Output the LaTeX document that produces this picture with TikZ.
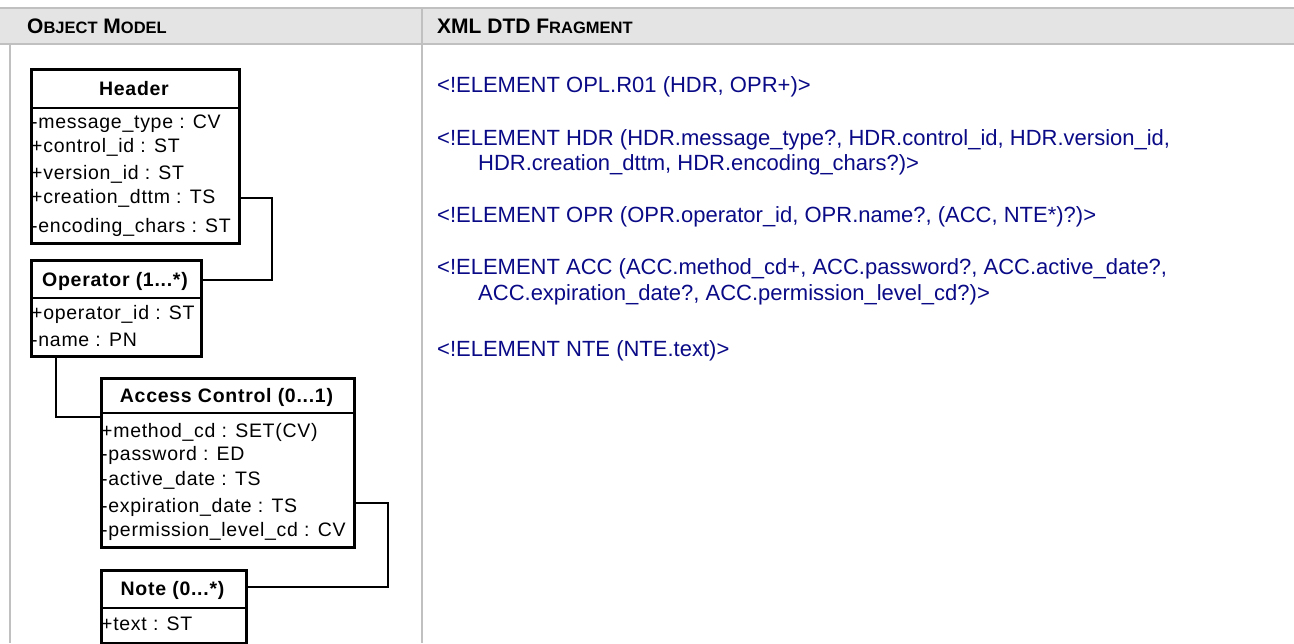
\documentclass[tikz,border=0pt]{standalone}
\usepackage{fontspec}
\setmainfont{Liberation Sans}
\newfontfamily\attrfont[LetterSpace=3.7]{Liberation Sans}
\definecolor{navy}{RGB}{10,10,135}
\definecolor{rulegray}{RGB}{192,192,192}
\definecolor{bandgray}{RGB}{228,228,228}
\newcommand\smcp[1]{{\fontsize{16.5}{20}\selectfont #1}}
\tikzset{
  umlbox/.style={draw=black, line width=2.6pt, inner sep=0pt, anchor=north west},
  divider/.style={draw=black, line width=2.6pt},
  attr/.style={anchor=base west, inner sep=0pt, font=\attrfont\fontsize{19.5}{22}\selectfont},
  ttl/.style={anchor=base, inner sep=0pt, font=\attrfont\bfseries\fontsize{19.5}{22}\selectfont},
  conn/.style={draw=black, line width=1.1pt},
  dtd/.style={anchor=base west, inner sep=0pt, text=navy, font=\fontsize{22}{25}\selectfont},
  colhead/.style={anchor=base west, inner sep=0pt, font=\bfseries\fontsize{21}{24}\selectfont},
  tablerule/.style={draw=rulegray, line width=2pt}
}
\begin{document}
\begin{tikzpicture}[x=1pt,y=-1pt]
\useasboundingbox (0,0) rectangle (1294,643);
% table frame
\fill[bandgray] (0,7.7) rectangle (1294,43.7);
\draw[tablerule] (0,7.7) -- (1294,7.7);
\draw[tablerule] (0,43.7) -- (1294,43.7);
\draw[tablerule] (10,43.7) -- (10,643);
\draw[tablerule] (422,7.7) -- (422,643);
\node[colhead] (h1) at (27,33) {O\smcp{BJECT} M\smcp{ODEL}};
\node[colhead] (h2) at (437,33) {XML DTD F\smcp{RAGMENT}};

% Header box
\node[umlbox, minimum width=208pt, minimum height=174pt] (hdr) at (30,68) {};
\draw[divider] (30,108) -- (238,108);
\node[ttl] (hdrt) at (134,95) {Header};
\node[attr] (h_a) at (31,128) {-message\_type : CV};
\node[attr] (h_b) at (31,152) {+control\_id : ST};
\node[attr] (h_c) at (31,179) {+version\_id : ST};
\node[attr] (h_d) at (31,203) {+creation\_dttm : TS};
\node[attr] (h_e) at (31,232) {-encoding\_chars : ST};

% Operator box
\node[umlbox, minimum width=170pt, minimum height=96pt] (opr) at (30,259) {};
\draw[divider] (30,298) -- (200,298);
\node[ttl] (oprt) at (115,286) {Operator (1...*)};
\node[attr] (o_a) at (31,319) {+operator\_id : ST};
\node[attr] (o_b) at (31,346) {-name : PN};

% Access Control box
\node[umlbox, minimum width=253pt, minimum height=169pt] (acc) at (100,377) {};
\draw[divider] (100,413) -- (353,413);
\node[ttl] (acct) at (226.5,402) {Access Control (0...1)};
\node[attr] (a_a) at (101,437) {+method\_cd : SET(CV)};
\node[attr] (a_b) at (101,460) {-password : ED};
\node[attr] (a_c) at (101,485) {-active\_date : TS};
\node[attr] (a_d) at (101,512) {-expiration\_date : TS};
\node[attr] (a_e) at (101,536) {-permission\_level\_cd : CV};

% Note box
\node[umlbox, minimum width=145pt, minimum height=73pt] (note) at (100,569) {};
\draw[divider] (100,608) -- (245,608);
\node[ttl] (notet) at (172.5,595) {Note (0...*)};
\node[attr] (n_a) at (101,630) {+text : ST};

% connectors
\coordinate (j1) at (272,198);
\coordinate (j2) at (272,280);
\draw[conn] (hdr.east |- j1) -- (j1) -- (j2) -- (opr.east |- j2);
\coordinate (j3) at (56,417);
\draw[conn] (opr.south -| j3) -- (j3) -- (acc.west |- j3);
\coordinate (j4) at (388,503);
\coordinate (j5) at (388,587);
\draw[conn] (acc.east |- j4) -- (j4) -- (j5) -- (note.east |- j5);

% DTD fragment
\node[dtd] (d1) at (437,92) {<!ELEMENT OPL.R01 (HDR, OPR+)>};
\node[dtd] (d2) at (437,145) {<!ELEMENT HDR (HDR.message\_type?, HDR.control\_id, HDR.version\_id,};
\node[dtd] (d3) at (478,170) {HDR.creation\_dttm, HDR.encoding\_chars?)>};
\node[dtd] (d4) at (437,222) {<!ELEMENT OPR (OPR.operator\_id, OPR.name?, (ACC, NTE*)?)>};
\node[dtd] (d5) at (437,274) {<!ELEMENT ACC (ACC.method\_cd+, ACC.password?, ACC.active\_date?,};
\node[dtd] (d6) at (478,300) {ACC.expiration\_date?, ACC.permission\_level\_cd?)>};
\node[dtd] (d7) at (437,356) {<!ELEMENT NTE (NTE.text)>};
\end{tikzpicture}
\end{document}
